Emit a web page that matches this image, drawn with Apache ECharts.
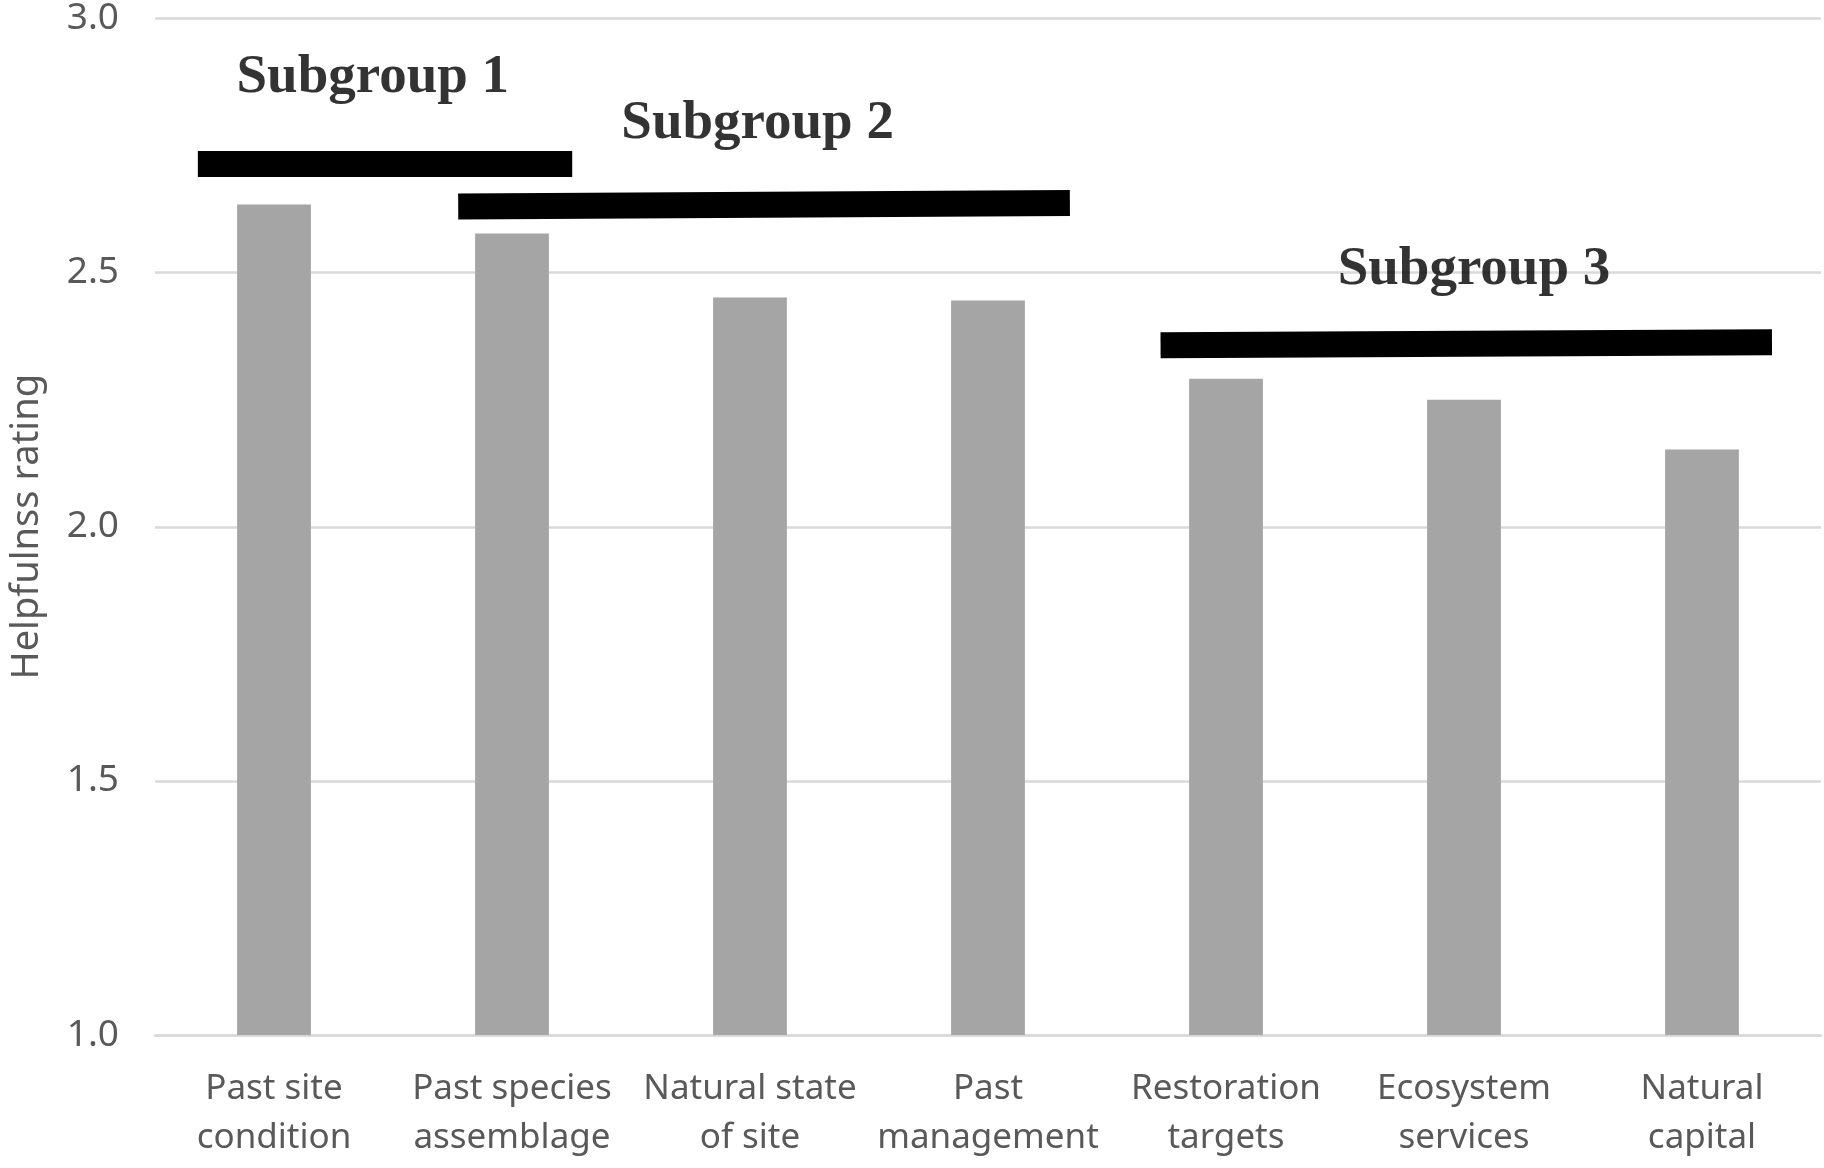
<!DOCTYPE html>
<html>
<head>
<meta charset="utf-8">
<script src="https://cdn.jsdelivr.net/npm/echarts@6/dist/echarts.min.js"></script>
<style>
  html, body { margin: 0; padding: 0; background: #fff; }
  #chart { width: 1824px; height: 1168px; }
</style>
</head>
<body>
<div id="chart"></div>
<script>
// categories and mean helpfulness ratings
var categories = [
    'Past site\ncondition', 'Past species\nassemblage', 'Natural state\nof site',
    'Past\nmanagement', 'Restoration\ntargets', 'Ecosystem\nservices', 'Natural\ncapital'
];
var ratings = [2.634, 2.577, 2.451, 2.445, 2.291, 2.250, 2.152];
var yTicks = [1.0, 1.5, 2.0, 2.5, 3.0];

// subgroup bars, in category units (x) and rating units (y)
var groupNames = ['Subgroup 1', 'Subgroup 2', 'Subgroup 3'];
var groupStart = [[-0.32, 2.714], [0.774, 2.630], [3.725, 2.357]];
var groupEnd = [[1.253, 2.714], [3.344, 2.637], [6.294, 2.363]];
var groupLabelAt = [[0.415, 2.883], [2.032, 2.792], [5.042, 2.506]];

var chart = echarts.init(document.getElementById('chart'));

var lineData = [];
for (var i = 0; i < groupNames.length; i++) {
    lineData.push({ coords: [groupStart[i], groupEnd[i]] });
}
var labelData = [];
for (var j = 0; j < groupNames.length; j++) {
    labelData.push({ name: groupNames[j], value: groupLabelAt[j] });
}

var option = {
    animation: false,
    backgroundColor: '#fff',
    grid: { left: 152, right: 3, top: 17.5, bottom: 133 },
    xAxis: [
        {
            type: 'category',
            data: categories,
            axisLine: { show: true, lineStyle: { color: '#d9d9d9', width: 2.5 } },
            axisTick: { show: false },
            axisLabel: {
                color: '#595959', fontFamily: 'Noto Sans', fontSize: 35,
                lineHeight: 49, margin: 30, interval: 0
            }
        },
        { type: 'value', min: -0.5, max: 6.5, show: false }
    ],
    yAxis: {
        type: 'value',
        min: yTicks[0],
        max: yTicks[yTicks.length - 1],
        interval: 0.5,
        name: 'Helpfulnss rating',
        nameLocation: 'middle',
        nameGap: 109,
        nameTextStyle: { color: '#595959', fontFamily: 'Noto Sans', fontSize: 38 },
        axisLine: { show: false },
        axisTick: { show: false },
        splitLine: { lineStyle: { color: '#d9d9d9', width: 2.5 } },
        axisLabel: {
            color: '#595959', fontFamily: 'Noto Sans', fontSize: 37, margin: 36,
            formatter: function (v) { return v.toFixed(1); }
        }
    },
    series: [
        {
            type: 'bar',
            data: ratings,
            barWidth: '31%',
            itemStyle: { color: '#a5a5a5' }
        },
        {
            type: 'lines',
            coordinateSystem: 'cartesian2d',
            xAxisIndex: 1,
            data: lineData,
            lineStyle: { color: '#000', width: 26, opacity: 1, cap: 'butt' },
            z: 5
        },
        {
            type: 'scatter',
            xAxisIndex: 1,
            data: labelData,
            symbolSize: 0,
            itemStyle: { color: '#000' },
            label: {
                show: true,
                position: 'inside',
                formatter: '{b}',
                color: '#000',
                textBorderWidth: 0,
                fontFamily: 'Liberation Serif',
                fontWeight: 'bold',
                fontSize: 55
            },
            z: 6
        }
    ]
};

chart.setOption(option);
</script>
</body>
</html>
